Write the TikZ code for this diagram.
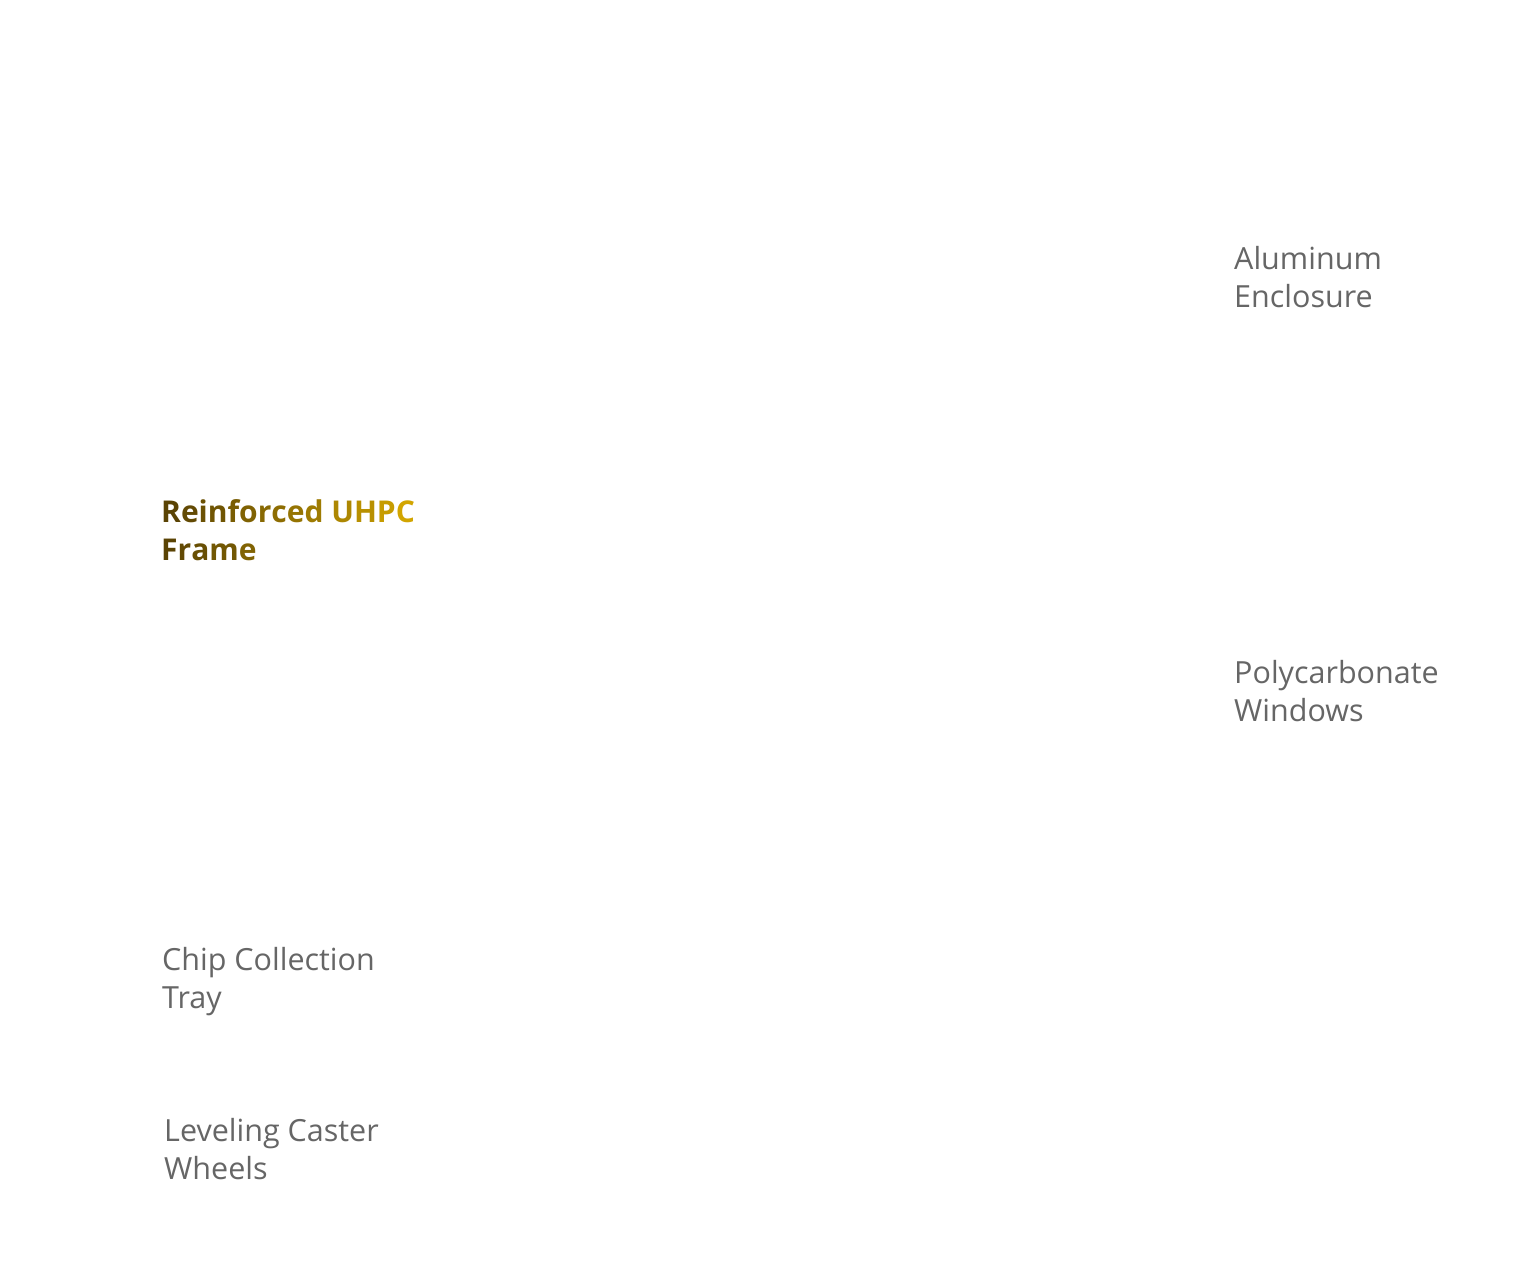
\documentclass[tikz,border=0pt]{standalone}
\usepackage{fontspec}
\setmainfont{Open Sans}
\definecolor{labelgray}{HTML}{666666}
\definecolor{gdark}{HTML}{5A4304}
\definecolor{ggold}{HTML}{DBAD00}
\newcommand{\gc}[2]{\textcolor{ggold!#1!gdark}{#2}}
\begin{document}
\begin{tikzpicture}[x=1pt,y=-1pt,
  lbl/.style={anchor=north west,inner sep=0pt,align=left,font=\fontsize{30.5}{38}\selectfont,text=labelgray},
  blbl/.style={anchor=north west,inner sep=0pt,align=left,font=\fontsize{30}{38}\selectfont\bfseries}]
\useasboundingbox[fill=white] (0,0) rectangle (1536,1280);
\node[lbl] (alu) at (1234,246) {Aluminum\\Enclosure};
\node[blbl] (frame) at (161,499) {\gc{0}{R}\gc{7}{e}\gc{13}{i}\gc{17}{n}\gc{24}{f}\gc{29}{o}\gc{36}{r}\gc{40}{c}\gc{46}{e}\gc{53}{d} \gc{64}{U}\gc{73}{H}\gc{84}{P}\gc{93}{C}\\\gc{0}{F}\gc{6}{r}\gc{11}{a}\gc{19}{m}\gc{30}{e}};
\node[lbl] (poly) at (1234,660) {Polycarbonate\\Windows};
\node[lbl] (chip) at (162,947) {Chip Collection\\Tray};
\node[lbl] (wheel) at (164,1118) {Leveling Caster\\Wheels};
\end{tikzpicture}
\end{document}
